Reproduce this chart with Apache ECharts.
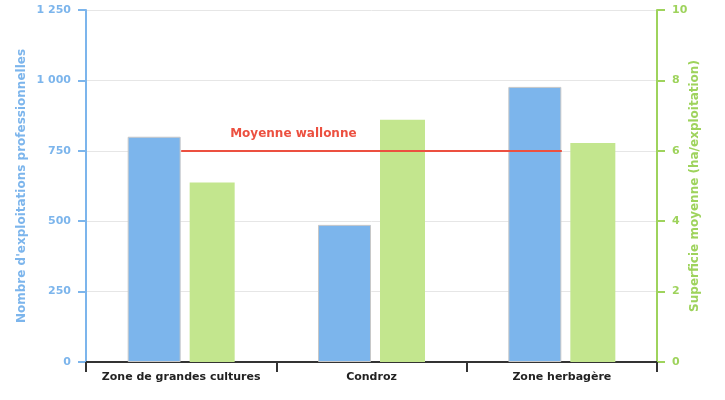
<!DOCTYPE html>
<html><head><meta charset="utf-8">
<script src="https://cdn.jsdelivr.net/npm/echarts@6/dist/echarts.min.js"></script>
<style>html,body{margin:0;padding:0;background:#fff}#c{width:725px;height:400px}</style>
</head><body><div id="c"></div>
<script>
const categories = ['Zone de grandes cultures', 'Condroz', 'Zone herbagère'];
const exploitations = [800, 487, 977];
const superficie = [5.1, 6.88, 6.22];
const moyenneWallonne = 750;
const leftTicks = [0, 250, 500, 750, 1000, 1250];
const rightTicks = [0, 2, 4, 6, 8, 10];

const blue = '#7cb5ec', green = '#9ed35c', red = '#ec5040';
const fmt = v => String(v).replace(/\B(?=(\d{3})+(?!\d))/g, ' ');
const chart = echarts.init(document.getElementById('c'));
chart.setOption({
  animation: false,
  textStyle: { fontFamily: 'DejaVu Sans' },
  grid: { left: 86, right: 68, top: 10, bottom: 38 },
  xAxis: {
    type: 'category', data: categories,
    axisLine: { lineStyle: { color: '#333', width: 2 } },
    axisTick: { show: true, length: 10, lineStyle: { color: '#333', width: 2 } },
    axisLabel: { color: '#222', fontWeight: 'bold', fontSize: 11, margin: 10, interval: 0 }
  },
  yAxis: [{
    type: 'value', min: 0, max: leftTicks[leftTicks.length - 1], interval: 250,
    name: "Nombre d'exploitations professionnelles", nameLocation: 'middle', nameGap: 58,
    nameMoveOverlap: false,
    nameTextStyle: { color: blue, fontWeight: 'bold', fontSize: 12 },
    axisLine: { show: true, lineStyle: { color: blue, width: 2 } },
    axisTick: { show: true, inside: false, length: 8, lineStyle: { color: blue, width: 2 } },
    axisLabel: { color: blue, fontWeight: 'bold', fontSize: 11, margin: 15, formatter: fmt },
    splitLine: { lineStyle: { color: '#e6e6e6' } }
  }, {
    type: 'value', min: 0, max: rightTicks[rightTicks.length - 1], interval: 2,
    name: 'Superficie moyenne (ha/exploitation)', nameLocation: 'middle', nameGap: 32,
    nameMoveOverlap: false,
    nameTextStyle: { color: green, fontWeight: 'bold', fontSize: 12 },
    axisLine: { show: true, lineStyle: { color: green, width: 2 } },
    axisTick: { show: true, inside: false, length: 8, lineStyle: { color: green, width: 2 } },
    axisLabel: { color: green, fontWeight: 'bold', fontSize: 11, margin: 15 },
    splitLine: { show: false }
  }],
  series: [{
    type: 'bar', data: exploitations, yAxisIndex: 0, barWidth: 53, barGap: '17%',
    itemStyle: { color: blue, borderColor: '#c8c8c8', borderWidth: 1 }
  }, {
    type: 'bar', data: superficie, yAxisIndex: 1, barWidth: 45,
    itemStyle: { color: '#c3e68e' }
  }, {
    type: 'line', data: [], yAxisIndex: 0, silent: true,
    markLine: {
      symbol: 'none', silent: true,
      lineStyle: { color: red, width: 2, type: 'solid' },
      label: { show: true, position: 'insideStartTop', formatter: 'Moyenne wallonne',
               color: red, fontWeight: 'bold', fontSize: 12, distance: [49, 11] },
      data: [[{ coord: [0, moyenneWallonne] }, { coord: [2, moyenneWallonne] }]]
    }
  }]
});
</script></body></html>
